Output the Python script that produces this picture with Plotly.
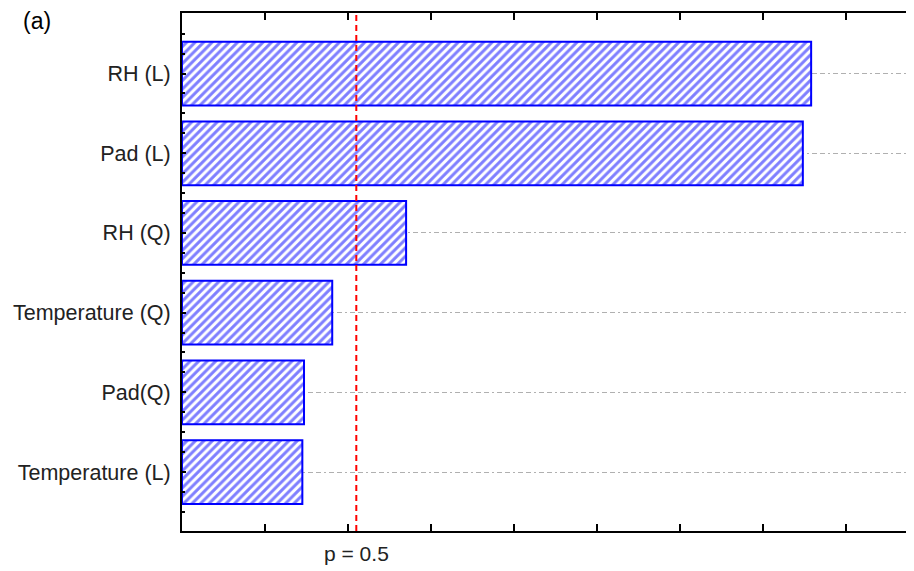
import plotly.graph_objects as go

# Data
factors = ["RH (L)", "Pad (L)", "RH (Q)", "Temperature (Q)", "Pad(Q)", "Temperature (L)"]
effects = [7.58, 7.48, 2.70, 1.81, 1.47, 1.45]
p_value_line = 2.1
p_label = "p = 0.5"
panel_label = "(a)"

positions = list(range(len(factors)))

# page offset (browser body margin)
OFF = 8
W, H = 914, 571 - OFF
L, T, B = 182 - OFF, 13 - OFF, 40
PW, PH = W - L, H - T - B

fig = go.Figure()
fig.add_trace(go.Bar(
    x=effects,
    y=positions,
    orientation="h",
    width=0.8,
    marker=dict(
        color="white",
        line=dict(color="#0000ff", width=2),
        pattern=dict(shape="/", fgcolor="#0000ff", bgcolor="white", size=6, solidity=0.5),
    ),
    showlegend=False,
))

fig.add_shape(type="line", xref="x", yref="paper", x0=p_value_line, x1=p_value_line,
              y0=0, y1=1, line=dict(color="#ff0000", width=2, dash="6px,4px"))

fig.add_annotation(text=p_label, x=p_value_line, xref="x", y=-(553 - 531) / PH, yref="paper",
                   yanchor="middle", xanchor="center", showarrow=False,
                   font=dict(family="Liberation Sans, Arial", size=21, color="#222"))

fig.add_annotation(text=panel_label, x=(37 - 182) / PW, xref="paper",
                   y=1 + (13 - 21) / PH, yref="paper",
                   xanchor="center", yanchor="middle", showarrow=False,
                   font=dict(family="Liberation Sans, Arial", size=23, color="#000"))

fig.update_layout(
    width=W, height=H,
    margin=dict(l=L, r=0, t=T, b=B),
    paper_bgcolor="white", plot_bgcolor="white",
    bargap=0.2,
    xaxis=dict(
        range=[0, PW / 83.0], dtick=1, tick0=0,
        showticklabels=False, ticks="inside", ticklen=7, tickwidth=2, tickcolor="#000",
        showline=True, linecolor="#000", linewidth=2, mirror="ticks",
        showgrid=False, zeroline=False,
    ),
    yaxis=dict(
        range=[5.74, -0.76],
        tickvals=positions, ticktext=factors,
        ticks="inside", ticklen=4, tickwidth=2, tickcolor="#000",
        ticklabelstandoff=5,
        tickfont=dict(family="Liberation Sans, Arial", size=21.5, color="#222"),
        showline=True, linecolor="#000", linewidth=2,
        showgrid=True, gridcolor="#b0b0b0", gridwidth=1, griddash="5px,3px,5px,3px,2px,3px",
        zeroline=False,
        minor=dict(dtick=0.25, tick0=0.0, ticks="inside", ticklen=3, tickcolor="#000", showgrid=False),
    ),
)

fig.write_html("out.html")
